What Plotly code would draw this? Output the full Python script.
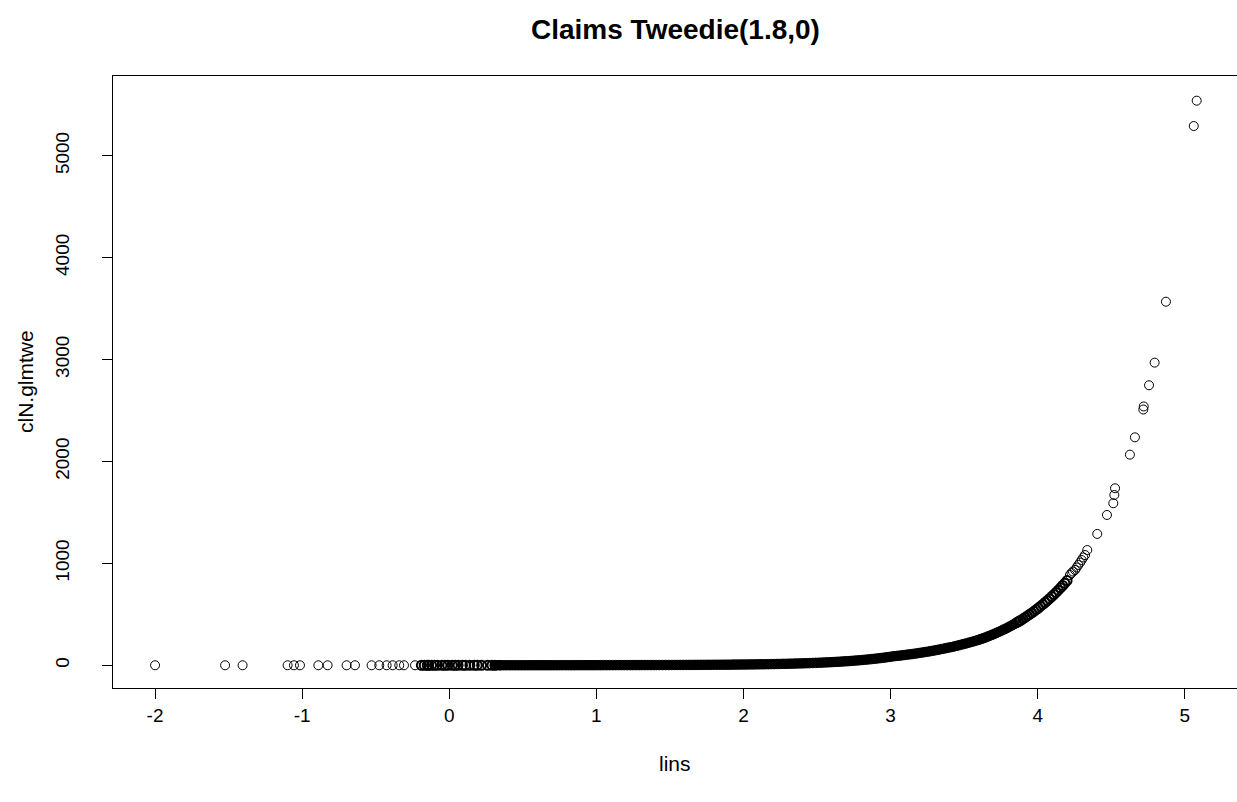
import plotly.graph_objects as go

# ---- data ----
# sparse points on the far left (all close to 0)
lins_left = [-2.000, -1.524, -1.405, -1.099, -1.056, -1.015, -0.890, -0.827, -0.698,
             -0.641, -0.528, -0.476, -0.426, -0.385, -0.340, -0.308, -0.233]
cln_left = [0.02, 0.03, 0.03, 0.04, 0.04, 0.04, 0.05, 0.05, 0.06,
            0.06, 0.07, 0.07, 0.07, 0.08, 0.08, 0.08, 0.09]

# start of the dense band
lins_start = [-0.19, -0.17, -0.15, -0.14, -0.12, -0.10, -0.08, -0.05, -0.03, -0.01, 0.02,
              0.04, 0.06, 0.09, 0.11, 0.14, 0.17, 0.19, 0.22, 0.26, 0.29, 0.31]
cln_start = [0.1, 0.1, 0.1, 0.1, 0.1, 0.1, 0.1, 0.1, 0.1, 0.1, 0.2,
             0.2, 0.2, 0.2, 0.2, 0.2, 0.3, 0.3, 0.3, 0.3, 0.3, 0.4]

# solid band, flat part
lins_band = [0.32, 0.34, 0.35, 0.37, 0.39,
             0.41, 0.43, 0.45, 0.47, 0.49, 0.51, 0.53, 0.55, 0.57, 0.59,
             0.61, 0.63, 0.65, 0.67, 0.69, 0.71, 0.73, 0.75, 0.77, 0.79,
             0.81, 0.83, 0.85, 0.87, 0.89, 0.91, 0.93, 0.95, 0.97, 0.99,
             1.01, 1.03, 1.05, 1.07, 1.09, 1.11, 1.13, 1.15, 1.17, 1.19,
             1.21, 1.23, 1.25, 1.27, 1.29, 1.31, 1.33, 1.35, 1.37, 1.39,
             1.41, 1.43, 1.45, 1.47, 1.49,
             1.51, 1.53, 1.55, 1.57, 1.59, 1.61, 1.63, 1.65, 1.67, 1.69,
             1.71, 1.73, 1.75, 1.77, 1.79, 1.81, 1.83, 1.85, 1.87, 1.89,
             1.91, 1.93, 1.95, 1.97, 1.99,
             2.01, 2.03, 2.05, 2.07, 2.09, 2.11, 2.13, 2.15, 2.17, 2.19,
             2.21, 2.23, 2.25, 2.27, 2.29, 2.31, 2.33, 2.35, 2.37, 2.39,
             2.41, 2.43, 2.45, 2.47, 2.49,
             2.51, 2.53, 2.55, 2.57, 2.59, 2.61, 2.63, 2.65, 2.67, 2.69,
             2.71, 2.73, 2.75, 2.77, 2.79, 2.81, 2.83, 2.85, 2.87, 2.89,
             2.91, 2.93, 2.95, 2.97, 2.99]
cln_band = [0.4, 0.4, 0.4, 0.4, 0.5,
            0.5, 0.5, 0.5, 0.5, 0.5, 0.6, 0.6, 0.6, 0.6, 0.6,
            0.7, 0.7, 0.7, 0.7, 0.7, 0.8, 0.8, 0.8, 0.8, 0.9,
            0.9, 0.9, 0.9, 1.0, 1.0, 1.0, 1.0, 1.1, 1.1, 1.1,
            1.2, 1.2, 1.3, 1.3, 1.4, 1.4, 1.5, 1.5, 1.6, 1.6,
            1.7, 1.7, 1.8, 1.9, 1.9, 2.0, 2.1, 2.1, 2.2, 2.3,
            2.4, 2.5, 2.5, 2.6, 2.7,
            2.8, 2.9, 3.0, 3.1, 3.2, 3.4, 3.5, 3.6, 3.8, 3.9,
            4.1, 4.2, 4.4, 4.6, 4.8, 5.0, 5.2, 5.4, 5.6, 5.9,
            6.1, 6.4, 6.7, 7.0, 7.3,
            7.6, 8.0, 8.4, 8.8, 9.2, 9.6, 10.0, 10.5, 11.0, 11.5,
            12.0, 12.6, 13.2, 13.8, 14.5, 15.2, 16.0, 16.8, 17.6, 18.5,
            19.4, 20.4, 21.4, 22.5, 23.6,
            24.8, 26.0, 27.3, 28.7, 30.1, 31.6, 33.2, 34.9, 36.7, 38.6,
            40.6, 42.7, 44.9, 47.2, 49.6, 52.1, 54.8, 57.6, 60.5, 63.6,
            66.8, 70.2, 73.8, 77.6, 81.5]

# band bending upwards, still solid
lins_rise = [3.01, 3.03, 3.05, 3.07, 3.09, 3.11, 3.13, 3.15, 3.17, 3.19,
             3.21, 3.23, 3.25, 3.27, 3.29, 3.31, 3.33, 3.35, 3.37, 3.39,
             3.41, 3.43, 3.45, 3.47, 3.49, 3.51, 3.53, 3.55, 3.57, 3.59,
             3.600, 3.615, 3.630, 3.645, 3.660, 3.675, 3.690, 3.705, 3.720, 3.735,
             3.750, 3.765, 3.780, 3.795, 3.810, 3.825, 3.840]
cln_rise = [86, 90, 93, 96, 100, 104, 107, 111, 115, 120,
            124, 129, 133, 138, 143, 149, 154, 160, 166, 172,
            178, 184, 191, 198, 206, 213, 221, 229, 237, 246,
            250, 258, 265, 273, 282, 290, 299, 308, 318, 327,
            337, 348, 358, 369, 381, 392, 404]

# steeper part where single rings begin to show
lins_steep = [3.855, 3.870, 3.885, 3.900, 3.915, 3.930, 3.945, 3.960, 3.975, 3.990,
              4.005, 4.020, 4.035, 4.050, 4.065, 4.080, 4.095, 4.110, 4.125, 4.140,
              4.155, 4.170, 4.185, 4.200]
cln_steep = [417, 429, 442, 456, 470, 484, 499, 514, 530, 546,
             562, 580, 597, 616, 634, 654, 674, 694, 715, 737,
             760, 783, 806, 831]

# sparse points at the top right
lins_top = [4.219, 4.230, 4.240, 4.254, 4.265, 4.276, 4.288, 4.299, 4.310, 4.322,
            4.337, 4.405, 4.471, 4.514, 4.521, 4.526, 4.627, 4.661, 4.718, 4.721,
            4.757, 4.795, 4.872, 5.061, 5.081]
cln_top = [886, 905, 920, 935, 960, 984, 1008, 1033, 1058, 1082,
           1131, 1289, 1475, 1590, 1671, 1737, 2067, 2237, 2510, 2540,
           2748, 2970, 3568, 5292, 5541]

x_ticks = [-2, -1, 0, 1, 2, 3, 4, 5]
y_ticks = [0, 1000, 2000, 3000, 4000, 5000]

FONT = "Liberation Sans, Arial, sans-serif"


def pairs(xs, ys):
    n = min(len(xs), len(ys))
    return xs[:n], ys[:n]


fig = go.Figure()

# dense, overplotted band (looks solid black in the reference)
bx, by = pairs(lins_band + lins_rise, cln_band + cln_rise)
fig.add_trace(go.Scatter(
    x=bx, y=by, mode="markers",
    marker=dict(symbol="circle", size=9.5, color="black",
                line=dict(color="black", width=1)),
    showlegend=False, hoverinfo="x+y"))

# heavily overlapping rings at the band's start and steep part
sx, sy = pairs(lins_start + lins_steep, cln_start + cln_steep)
fig.add_trace(go.Scatter(
    x=sx, y=sy, mode="markers",
    marker=dict(symbol="circle-open", size=9, color="black",
                line=dict(color="black", width=2)),
    showlegend=False, hoverinfo="x+y"))

# isolated rings
ox, oy = pairs(lins_left + lins_top, cln_left + cln_top)
fig.add_trace(go.Scatter(
    x=ox, y=oy, mode="markers",
    marker=dict(symbol="circle-open", size=9, color="black",
                line=dict(color="black", width=1)),
    showlegend=False, hoverinfo="x+y"))

fig.update_layout(
    width=1237, height=802,
    margin=dict(l=113, r=0, t=76, b=114),
    paper_bgcolor="white", plot_bgcolor="white",
    font=dict(family=FONT, color="black", size=19),
    xaxis=dict(range=[-2.286, 5.355], tickvals=x_ticks,
               ticktext=[str(v) for v in x_ticks],
               showgrid=False, zeroline=False,
               showline=True, mirror=True, linecolor="black", linewidth=1,
               ticks="outside", ticklen=10, tickcolor="black", tickwidth=1,
               tickfont=dict(size=19, family=FONT, color="black")),
    yaxis=dict(range=[-223, 5783], tickvals=y_ticks,
               ticktext=[str(v) for v in y_ticks],
               showgrid=False, zeroline=False,
               showline=True, mirror=False, linecolor="black", linewidth=1,
               ticks="outside", ticklen=10, tickcolor="black", tickwidth=1,
               tickangle=-90, ticklabelstandoff=25,
               tickfont=dict(size=19, family=FONT, color="black")),
    annotations=[
        dict(text="<b>Claims Tweedie(1.8,0)</b>", xref="paper", yref="paper",
             x=0.5, y=1, xanchor="center", yanchor="middle", yshift=47,
             showarrow=False, font=dict(size=28, family=FONT, color="black")),
        dict(text="lins", xref="paper", yref="paper",
             x=0.5, y=0, xanchor="center", yanchor="middle", yshift=-75,
             showarrow=False, font=dict(size=21, family=FONT, color="black")),
        dict(text="clN.glmtwe", xref="paper", yref="paper",
             x=0, y=0.5, xanchor="center", yanchor="middle", xshift=-88,
             textangle=-90,
             showarrow=False, font=dict(size=21, family=FONT, color="black")),
    ],
)

fig.write_html("out.html")
